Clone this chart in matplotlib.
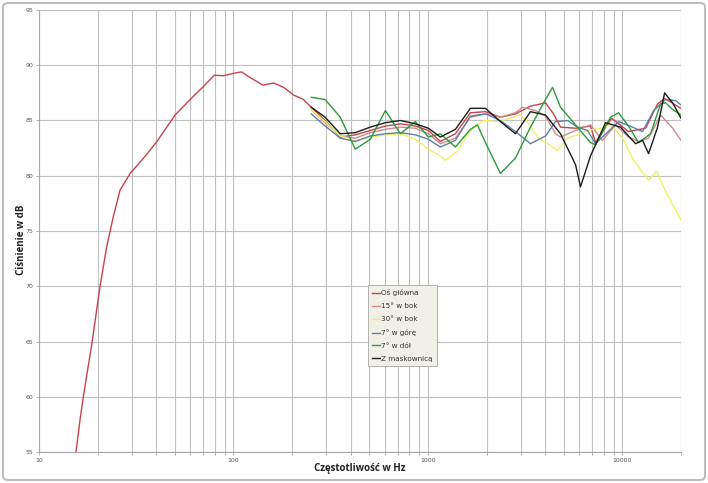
import matplotlib
matplotlib.use("Agg")
import matplotlib.pyplot as plt
from matplotlib.ticker import LogLocator, FixedLocator, NullFormatter, FixedFormatter
from matplotlib.patches import FancyBboxPatch

# ---- data (frequency in Hz, level in dB) ----
main_f = [15.5, 16.25, 16.9, 18.7, 20.6, 22.3, 24.1, 26.1, 29.4, 34.5, 40.4, 50.1, 59.9, 70.2,
          79.8, 88.9, 100, 110, 124, 142, 161, 181, 204, 229, 251, 296, 354, 423, 505, 604, 721,
          861, 1005, 1158, 1384, 1653, 1975, 2358, 2818, 3365, 4021, 4421, 4802, 5738, 6852,
          7270, 8788, 10750, 13150, 15160, 16470, 20000]
main_db = [55.0, 57.9, 60.0, 64.8, 70.0, 73.6, 76.3, 78.7, 80.2, 81.6, 83.1, 85.5, 86.9, 88.1,
           89.1, 89.05, 89.27, 89.4, 88.8, 88.2, 88.4, 88.0, 87.3, 86.9, 86.2, 85.0, 83.5, 83.7,
           84.1, 84.5, 84.7, 84.5, 84.1, 83.1, 83.8, 85.7, 85.8, 85.3, 85.6, 86.3, 86.6, 85.6,
           84.4, 84.3, 84.5, 83.0, 85.2, 84.0, 84.3, 86.5, 87.0, 86.1]

side15_f = [251, 296, 354, 423, 505, 604, 721, 861, 1005, 1158, 1384, 1653, 1975, 2358, 2818,
            3061, 3571, 4021, 4528, 4802, 5738, 6852, 7901, 9215, 10750, 12100, 13620, 15710,
            18110, 20000]
side15_db = [86.0, 84.8, 83.6, 83.4, 83.9, 84.2, 84.4, 84.3, 83.8, 82.9, 83.4, 85.3, 85.6, 85.3,
             85.7, 86.2, 85.9, 85.4, 83.8, 83.5, 84.1, 84.6, 83.2, 84.6, 83.5, 83.1, 83.4, 85.5,
             84.3, 83.2]

side30_f = [251, 296, 354, 423, 505, 604, 721, 861, 1005, 1158, 1229, 1416, 1653, 1928, 2276,
            2655, 2990, 3249, 3657, 4118, 4636, 5219, 5874, 6613, 7716, 8685, 10010, 11400,
            13620, 14980, 16670, 18110, 20000]
side30_db = [86.0, 84.9, 83.6, 83.2, 83.5, 83.7, 83.8, 83.3, 82.4, 81.8, 81.4, 82.2, 84.1, 85.0,
             84.9, 85.2, 85.5, 84.9, 83.5, 82.9, 82.3, 83.4, 83.7, 84.1, 84.3, 84.6, 83.4, 81.4,
             79.6, 80.4, 78.6, 77.4, 76.0]

up7_f = [251, 296, 354, 423, 505, 604, 721, 861, 1005, 1158, 1384, 1653, 1975, 2358, 2818,
         3365, 4021, 4528, 5219, 5874, 6613, 7270, 9548, 11270, 12690, 14460, 16670, 18760, 20000]
up7_db = [85.6, 84.5, 83.4, 83.1, 83.6, 83.8, 83.9, 83.7, 83.3, 82.6, 83.2, 85.4, 85.6, 85.0,
          84.0, 82.9, 83.6, 84.9, 85.0, 84.4, 84.1, 82.9, 84.9, 84.4, 84.0, 85.9, 86.9, 86.8, 86.4]

down7_f = [251, 296, 354, 423, 505, 604, 721, 861, 1005, 1158, 1384, 1653, 1796, 1975, 2358,
           2818, 3365, 4021, 4370, 4802, 5738, 6852, 7270, 8685, 9548, 10750, 12100, 13950,
           15710, 16670, 18110, 20000]
down7_db = [87.1, 86.9, 85.3, 82.4, 83.3, 85.9, 83.8, 84.9, 83.5, 83.8, 82.6, 84.2, 84.6, 83.0,
            80.2, 81.6, 84.4, 86.9, 88.0, 86.2, 84.6, 83.0, 82.8, 85.3, 85.7, 84.5, 83.0, 83.8,
            86.5, 86.6, 86.0, 85.5]

grille_f = [251, 296, 354, 423, 505, 604, 721, 861, 1005, 1158, 1384, 1653, 1975, 2358, 2818,
            3365, 4021, 4802, 5738, 6085, 6852, 8185, 9777, 11680, 12690, 13620, 15160, 16470,
            18110, 20000]
grille_db = [86.2, 85.3, 83.8, 83.9, 84.4, 84.8, 85.0, 84.7, 84.3, 83.5, 84.2, 86.1, 86.1, 84.9,
             83.8, 85.8, 85.5, 83.8, 81.0, 79.0, 81.8, 84.8, 84.4, 82.9, 83.2, 82.0, 84.4, 87.5,
             86.6, 85.2]

labels = ["Oś główna", "15° w bok", "30° w bok", "7° w górę", "7° w dół", "Z maskownicą"]
colors = ["#c8424a", "#cc8a8c", "#f0f066", "#5f80a8", "#2e9a38", "#1c1c1c"]

y_ticks = [55, 60, 65, 70, 75, 80, 85, 90, 95]
x_ticks = [10, 100, 1000, 10000]
x_ticklabels = ["10", "100", "1000", "10000"]

# ---- figure ----
fig = plt.figure(figsize=(7.08, 4.83), dpi=100)
fig.patch.set_facecolor("white")
ax = fig.add_axes([39 / 708, 1 - 452 / 483, (681 - 39) / 708, (452 - 10) / 483])

series = [(main_f, main_db), (side15_f, side15_db), (side30_f, side30_db),
          (up7_f, up7_db), (down7_f, down7_db), (grille_f, grille_db)]
for (f, d), lab, c in zip(series, labels, colors):
    ax.plot(f, d, color=c, lw=1.0, label=lab, solid_joinstyle="round")

ax.set_xscale("log")
ax.set_xlim(10, 20000)
ax.set_ylim(55, 95)
ax.xaxis.set_major_locator(FixedLocator(x_ticks))
ax.xaxis.set_major_formatter(FixedFormatter(x_ticklabels))
ax.xaxis.set_minor_locator(LogLocator(base=10, subs=range(2, 10), numticks=20))
ax.xaxis.set_minor_formatter(NullFormatter())
ax.set_yticks(y_ticks)

grid_c = "#c0c0c0"
ax.grid(True, which="major", color=grid_c, lw=0.8)
ax.grid(True, which="minor", axis="x", color=grid_c, lw=0.8)
for s in ["top", "right"]:
    ax.spines[s].set_visible(False)
for s in ["left", "bottom"]:
    ax.spines[s].set_color("#a8a8a8")
    ax.spines[s].set_linewidth(0.8)
ax.tick_params(axis="both", which="both", colors="#a8a8a8", labelcolor="#555555",
               labelsize=4.5, length=2, width=0.6, pad=2)

fig.text(21 / 708, 1 - 240 / 483, "Ciśnienie w dB", rotation=90, ha="center", va="center",
         fontsize=7, fontweight="bold", family="Open Sans", color="#222222")
fig.text(360 / 708, 1 - 468 / 483, "Częstotliwość w Hz", ha="center", va="center",
         fontsize=7, fontweight="bold", family="Open Sans", color="#222222")

leg = ax.legend(loc="upper left", bbox_to_anchor=(368 / 708, 1 - 285 / 483),
                bbox_transform=fig.transFigure, fontsize=5.2, frameon=True, fancybox=False,
                handlelength=1.1, handletextpad=0.15, labelspacing=0.95, borderpad=0.6,
                borderaxespad=0)
leg.get_frame().set_facecolor("#f1f0e6")
leg.get_frame().set_edgecolor("#a8a8a8")
leg.get_frame().set_linewidth(0.6)
leg.get_frame().set_alpha(1)
for t in leg.get_texts():
    t.set_color("#333333")

border = FancyBboxPatch((3 / 708, 3 / 483), 702 / 708, 477 / 483,
                        boxstyle="round,pad=0,rounding_size=0.008",
                        transform=fig.transFigure, fill=False, edgecolor="#bdbdbd", lw=1.5)
fig.patches.append(border)

fig.savefig("out.png", dpi=100)
